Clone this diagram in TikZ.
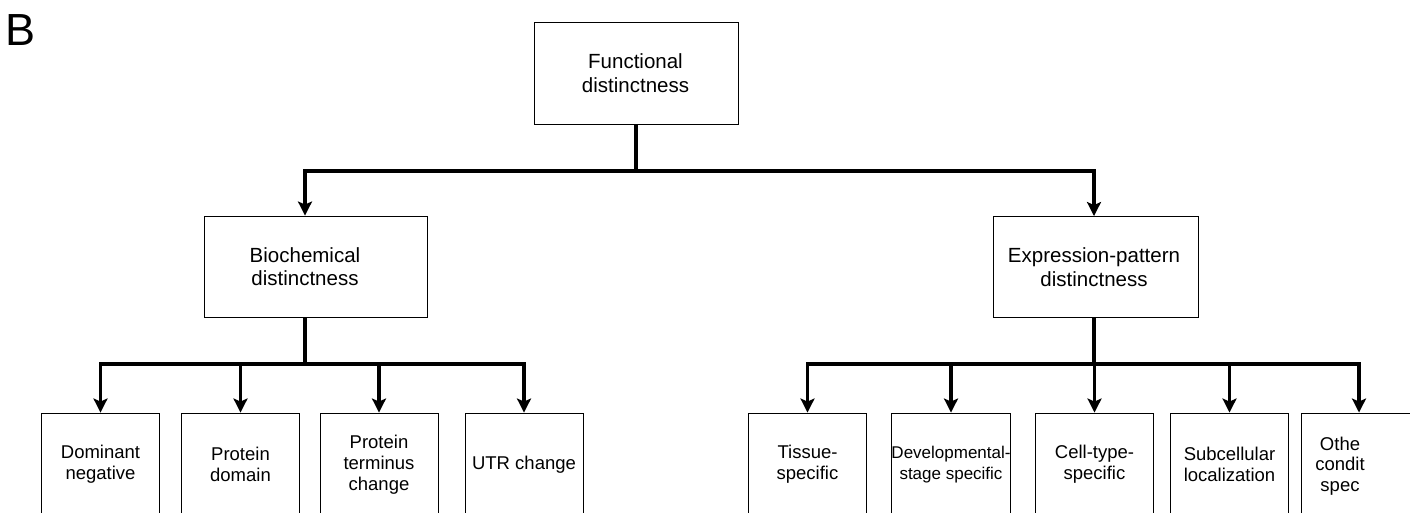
\documentclass[tikz,border=0pt]{standalone}
\usepackage{fontspec}
\setmainfont{Liberation Sans}
\usetikzlibrary{arrows.meta}
\begin{document}
\begin{tikzpicture}[x=1pt,y=-1pt,
  box/.style={draw, line width=0.9pt, inner sep=0pt},
  midtxt/.style={align=center, inner sep=0pt, font=\fontsize{20.5}{23.5}\selectfont},
  leaftxt/.style={align=center, inner sep=0pt, font=\fontsize{18.5}{21}\selectfont},
  leaf/.style={box, minimum width=118pt, minimum height=103pt, align=center, font=\fontsize{18.5}{21}\selectfont},
  conn/.style={line width=3.2pt},
  arr/.style={line width=3.2pt, -{Stealth[length=14pt,width=14pt,inset=3pt]}}]
\useasboundingbox (0,0) rectangle (1410,512);
\clip (0,0) rectangle (1410,512);
\fill[white] (0,0) rectangle (1410,512);

\node[anchor=base west, inner sep=0pt, font=\fontsize{45}{50}\selectfont] (lab) at (5,45) {B};

% top
\node[box, minimum width=204pt, minimum height=102pt] (top) at (636,73) {};
\node[midtxt] (topt) at (635.5,73) {Functional\\distinctness};

% middle
\node[box, minimum width=223pt, minimum height=101pt] (bio) at (315.5,266.5) {};
\node[midtxt] (biot) at (305,266.5) {Biochemical\\distinctness};
\node[box, minimum width=205pt, minimum height=101pt] (exp) at (1095.5,267) {};
\node[midtxt] (expt) at (1094,267) {Expression-pattern\\distinctness};

% leaves
\node[leaf] (dn) at (100.5,464.5) {Dominant\\negative};
\node[leaf] (pd) at (240.5,464.5) {Protein\\domain};
\node[leaf] (pt) at (379,464.5) {Protein\\terminus\\change};
\node[leaf] (utr) at (524,464.5) {UTR change};

\node[leaf] (ts) at (807.5,464.5) {Tissue-\\specific};
\node[leaf, font=\fontsize{17}{21}\selectfont] (dv) at (951,464.5) {Developmental-\\stage specific};
\node[leaf] (ct) at (1094.5,464.5) {Cell-type-\\specific};
\node[leaf] (sc) at (1229.5,464.5) {Subcellular\\localization};
\node[box, minimum width=119pt, minimum height=103pt] (oc) at (1360.5,464.5) {};
\node[leaftxt, font=\fontsize{18.5}{20.5}\selectfont] (oct) at (1340,466) {Othe\\condit\\spec};

% connectors top level
\coordinate (j1) at (636,171);
\coordinate (j2) at (305,364);
\coordinate (j3) at (1094,364);
\draw[conn] (top.south) -- (j1);
\draw[arr] (j1) -| (bio.north -| j2);
\draw[arr] (j1) -| (exp.north -| j3);

% left branch
\draw[conn] (bio.south -| j2) -- (j2);
\draw[arr] (j2) -| (dn.north);
\draw[arr] (j2) -| (utr.north);
\draw[arr] (pd.north |- j2) -- (pd.north);
\draw[arr] (pt.north |- j2) -- (pt.north);

% right branch
\draw[conn] (exp.south -| j3) -- (j3);
\draw[arr] (j3) -| (ts.north);
\draw[arr] (j3) -| ([xshift=-1.5pt]oc.north);
\draw[arr] (dv.north |- j3) -- (dv.north);
\draw[arr] (ct.north |- j3) -- (ct.north);
\draw[arr] (sc.north |- j3) -- (sc.north);
\end{tikzpicture}
\end{document}
